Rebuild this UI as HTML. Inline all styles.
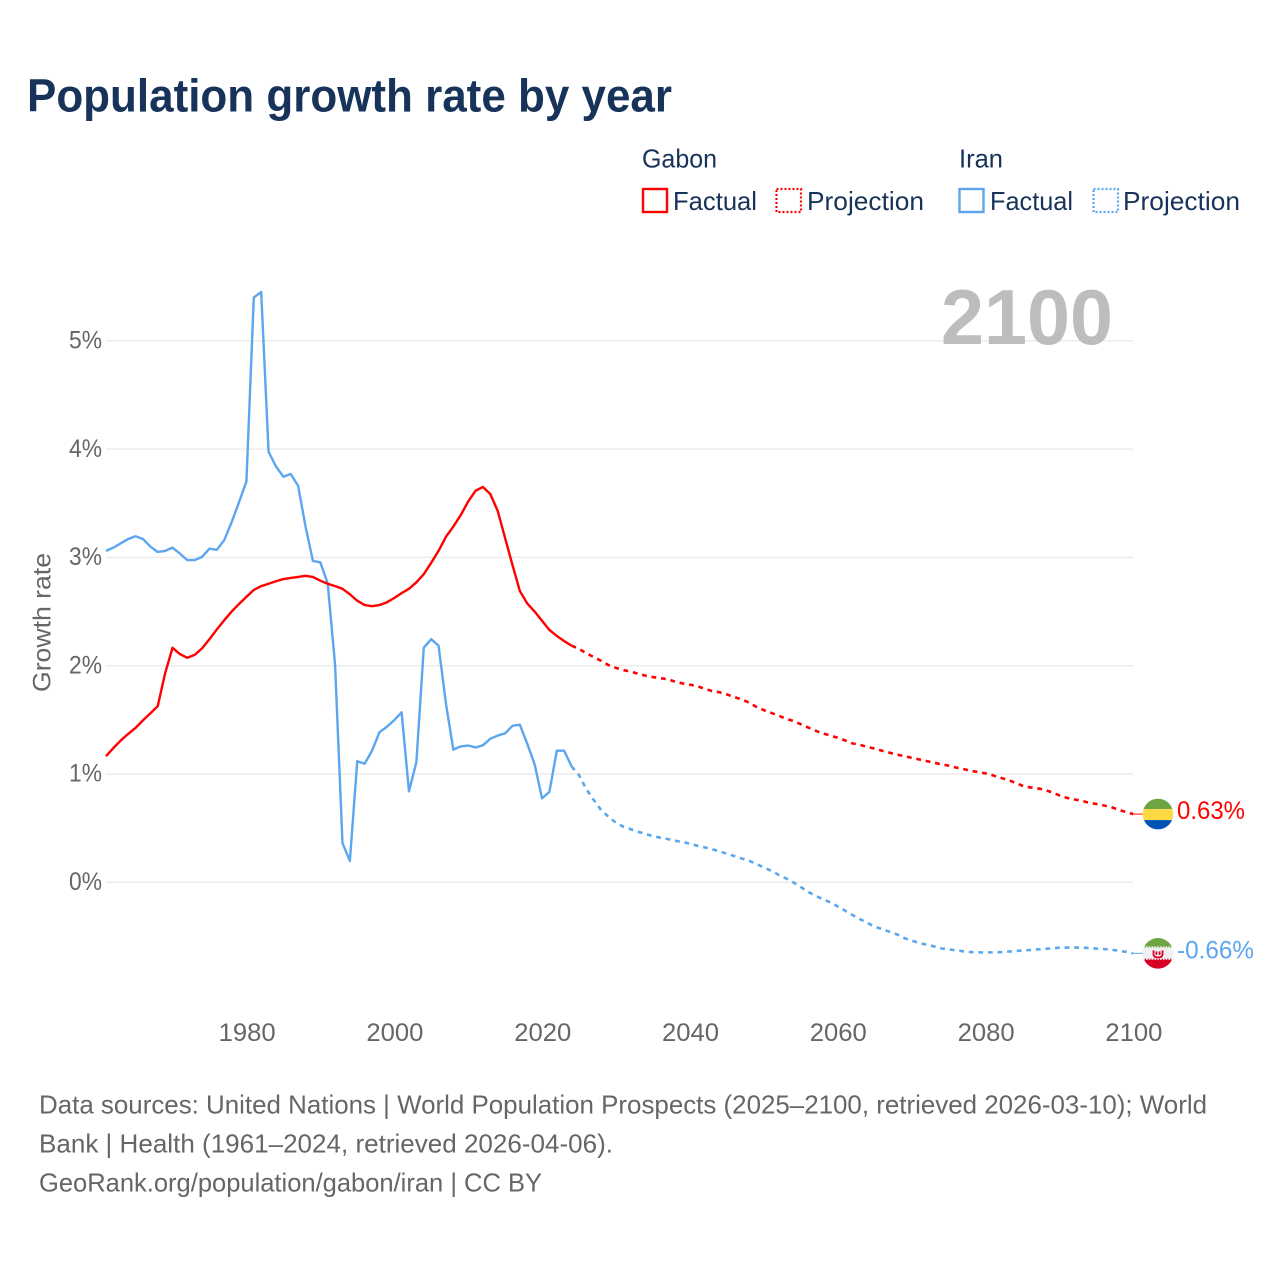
<!DOCTYPE html>
<html lang="en">
<head>
<meta charset="utf-8">
<title>Population growth rate by year</title>
<style>
html,body{margin:0;padding:0;background:#fff;}
svg{display:block;font-family:"Liberation Sans",sans-serif;}
</style>
</head>
<body>
<svg id="chart" width="1280" height="1280" viewBox="0 0 1280 1280" xmlns="http://www.w3.org/2000/svg">
  <defs>
    <clipPath id="flag-clip-gabon"><circle cx="0" cy="0" r="15.3"/></clipPath>
    <clipPath id="flag-clip-iran"><circle cx="0" cy="0" r="15.3"/></clipPath>
  </defs>
  <rect x="0" y="0" width="1280" height="1280" fill="#ffffff"/>
  <text x="27" y="111.5" font-size="46" font-weight="700" fill="#17335a" textLength="645" lengthAdjust="spacingAndGlyphs">Population growth rate by year</text>

  <g font-size="26" fill="#17335a">
    <text x="642" y="167.5" textLength="75" lengthAdjust="spacingAndGlyphs">Gabon</text>
    <rect x="643" y="189" width="24" height="23" fill="none" stroke="#ff0000" stroke-width="2.4"/>
    <text x="673" y="210" textLength="84" lengthAdjust="spacingAndGlyphs">Factual</text>
    <rect x="776.5" y="189" width="24.5" height="23" fill="none" stroke="#ff0000" stroke-width="2.2" stroke-dasharray="2 2"/>
    <text x="807" y="210" textLength="117" lengthAdjust="spacingAndGlyphs">Projection</text>
    <text x="959" y="167.5" textLength="44" lengthAdjust="spacingAndGlyphs">Iran</text>
    <rect x="959.5" y="189" width="24" height="23" fill="none" stroke="#5ba6ef" stroke-width="2.4"/>
    <text x="990" y="210" textLength="83" lengthAdjust="spacingAndGlyphs">Factual</text>
    <rect x="1093.5" y="189" width="24.5" height="23" fill="none" stroke="#5ba6ef" stroke-width="2.2" stroke-dasharray="2 2"/>
    <text x="1123" y="210" textLength="117" lengthAdjust="spacingAndGlyphs">Projection</text>
  </g>

  <g id="grid"></g>
  <text x="941" y="344" font-size="78" font-weight="700" fill="#bdbdbd" textLength="172" lengthAdjust="spacingAndGlyphs">2100</text>
  <g id="y-ticks"></g>
  <g id="x-ticks"></g>
  <text transform="translate(50.5,692) rotate(-90)" x="0" y="0" font-size="25" fill="#666666" textLength="139" lengthAdjust="spacingAndGlyphs">Growth rate</text>
  <g id="series"></g>

  <g id="flag-gabon">
    <g clip-path="url(#flag-clip-gabon)">
      <rect x="-16" y="-16" width="32" height="11" fill="#6da544"/>
      <rect x="-16" y="-5" width="32" height="11" fill="#ffda44"/>
      <rect x="-16" y="6" width="32" height="10" fill="#0052b4"/>
    </g>
  </g>
  <g id="flag-iran">
    <g clip-path="url(#flag-clip-iran)">
      <rect x="-16" y="-16" width="32" height="32" fill="#f0f0f0"/>
      <rect x="-16" y="-16" width="32" height="9" fill="#6da544"/>
      <rect x="-16" y="6.5" width="32" height="10" fill="#d80027"/>
      <line x1="-16" x2="16" y1="-6.4" y2="-6.4" stroke="#6da544" stroke-width="1.3" stroke-dasharray="1.2 1.6"/>
      <line x1="-16" x2="16" y1="5.9" y2="5.9" stroke="#d80027" stroke-width="1.3" stroke-dasharray="1.2 1.6"/>
      <path d="M-4.5 -3 V1 Q-4.5 4 0 4 Q4.5 4 4.5 1 V-3 M-1.6 -2 V1.5 M1.6 -2 V1.5" fill="none" stroke="#d80027" stroke-width="1.8"/>
    </g>
  </g>
  <text id="value-gabon" x="1177" font-size="25" fill="#ff0000" textLength="68" lengthAdjust="spacingAndGlyphs"></text>
  <text id="value-iran" x="1177" font-size="25" fill="#5ba6ef" textLength="77" lengthAdjust="spacingAndGlyphs"></text>

  <g font-size="26" fill="#666666">
    <text x="39" y="1113.5" textLength="1168" lengthAdjust="spacingAndGlyphs">Data sources: United Nations | World Population Prospects (2025–2100, retrieved 2026-03-10); World</text>
    <text x="39" y="1152.5" textLength="574" lengthAdjust="spacingAndGlyphs">Bank | Health (1961–2024, retrieved 2026-04-06).</text>
    <text x="39" y="1191.5" textLength="503" lengthAdjust="spacingAndGlyphs">GeoRank.org/population/gabon/iran | CC BY</text>
  </g>
</svg>
<script>
const firstYear = 1961;
const lastYear = 2100;
const projectionStartYear = 2024;
const xTickYears = [1980, 2000, 2020, 2040, 2060, 2080, 2100];
const yTickValues = [0, 1, 2, 3, 4, 5];

const gabonFactual = [1.165,1.24,1.31,1.37,1.426,1.495,1.56,1.626,1.93,2.165,2.107,2.073,2.10,2.16,2.245,2.335,2.42,2.50,2.57,2.635,2.70,2.735,2.757,2.78,2.80,2.81,2.82,2.83,2.82,2.785,2.757,2.735,2.71,2.66,2.60,2.56,2.55,2.56,2.585,2.625,2.67,2.71,2.77,2.845,2.95,3.06,3.19,3.285,3.39,3.515,3.615,3.65,3.585,3.43,3.18,2.93,2.69,2.575,2.50,2.415,2.33,2.275,2.227,2.185];
const gabonProjection = [2.185,2.155,2.115,2.08,2.045,2.005,1.98,1.96,1.945,1.926,1.908,1.895,1.885,1.875,1.853,1.837,1.825,1.81,1.788,1.766,1.755,1.735,1.71,1.69,1.66,1.62,1.59,1.565,1.54,1.51,1.49,1.46,1.43,1.40,1.375,1.355,1.335,1.31,1.283,1.27,1.25,1.235,1.215,1.197,1.18,1.165,1.15,1.135,1.12,1.105,1.09,1.077,1.06,1.046,1.03,1.018,1.006,0.988,0.966,0.947,0.92,0.892,0.877,0.868,0.855,0.83,0.803,0.78,0.766,0.753,0.735,0.723,0.71,0.695,0.67,0.65,0.63];
const iranFactual = [3.06,3.09,3.13,3.17,3.195,3.17,3.10,3.05,3.06,3.09,3.035,2.975,2.975,3.005,3.08,3.07,3.16,3.325,3.51,3.70,5.40,5.45,3.975,3.84,3.745,3.77,3.66,3.285,2.967,2.955,2.76,2.005,0.363,0.197,1.118,1.095,1.215,1.385,1.436,1.497,1.57,0.84,1.11,2.165,2.245,2.185,1.65,1.225,1.255,1.263,1.245,1.265,1.325,1.355,1.375,1.445,1.455,1.28,1.09,0.775,0.835,1.215,1.215,1.07];
const iranProjection = [1.07,0.99,0.86,0.76,0.667,0.605,0.55,0.513,0.49,0.467,0.446,0.427,0.412,0.40,0.384,0.372,0.357,0.338,0.323,0.305,0.286,0.264,0.243,0.22,0.20,0.169,0.138,0.107,0.07,0.037,0,-0.043,-0.087,-0.125,-0.155,-0.185,-0.222,-0.262,-0.302,-0.34,-0.373,-0.41,-0.431,-0.456,-0.48,-0.514,-0.539,-0.558,-0.576,-0.591,-0.61,-0.619,-0.628,-0.637,-0.644,-0.647,-0.647,-0.647,-0.645,-0.64,-0.635,-0.63,-0.625,-0.62,-0.615,-0.609,-0.604,-0.603,-0.603,-0.603,-0.606,-0.612,-0.616,-0.622,-0.632,-0.642,-0.656];

const SVG_NS = 'http://www.w3.org/2000/svg';
const plotLeft = 106, plotRight = 1133.2, zeroY = 882.3, pxPerUnit = 108.3;
const RED = '#ff0000', BLUE = '#5ba6ef';
function xScale(year) { return plotLeft + (year - firstYear) * (plotRight - plotLeft) / (lastYear - firstYear); }
function yScale(value) { return zeroY - value * pxPerUnit; }
function pointsFrom(values, startYear) {
  return values.map(function (v, i) { return xScale(startYear + i).toFixed(2) + ',' + yScale(v).toFixed(2); }).join(' ');
}

const gridGroup = document.getElementById('grid');
const yTickGroup = document.getElementById('y-ticks');
const xTickGroup = document.getElementById('x-ticks');
const seriesGroup = document.getElementById('series');

yTickValues.forEach(function (v) {
  const line = document.createElementNS(SVG_NS, 'line');
  
  
  line.setAttribute('x1', plotLeft);
  line.setAttribute('x2', plotRight);
  line.setAttribute('y1', yScale(v));
  line.setAttribute('y2', yScale(v));
  line.setAttribute('stroke', '#ececec');
  line.setAttribute('stroke-width', '1.5');
  gridGroup.appendChild(line);

  const label = document.createElementNS(SVG_NS, 'text');
  
  
  label.setAttribute('x', 102);
  label.setAttribute('y', yScale(v) + 7.7);
  label.setAttribute('text-anchor', 'end');
  label.setAttribute('font-size', '25');
  label.setAttribute('fill', '#666666');
  label.setAttribute('textLength', '33');
  label.setAttribute('lengthAdjust', 'spacingAndGlyphs');
  label.textContent = v + '%';
  yTickGroup.appendChild(label);
});

xTickYears.forEach(function (year) {
  const label = document.createElementNS(SVG_NS, 'text');
  
  
  label.setAttribute('x', xScale(year) + 0.7);
  label.setAttribute('y', 1041);
  label.setAttribute('text-anchor', 'middle');
  label.setAttribute('font-size', '25');
  label.setAttribute('fill', '#666666');
  label.setAttribute('textLength', '57');
  label.setAttribute('lengthAdjust', 'spacingAndGlyphs');
  label.textContent = year;
  xTickGroup.appendChild(label);
});

function drawLine(name, values, startYear, color, dashed) {
  const line = document.createElementNS(SVG_NS, 'polyline');
  
  
  line.setAttribute('points', pointsFrom(values, startYear));
  line.setAttribute('fill', 'none');
  line.setAttribute('stroke', color);
  line.setAttribute('stroke-width', dashed ? '2.6' : '2.4');
  line.setAttribute('stroke-linejoin', 'round');
  if (dashed) {
    line.setAttribute('stroke-dasharray', '4.8 4.8');
  }
  seriesGroup.appendChild(line);
}

drawLine('line-iran-factual', iranFactual, firstYear, BLUE, false);
drawLine('line-iran-projection', iranProjection, projectionStartYear, BLUE, true);
drawLine('line-gabon-factual', gabonFactual, firstYear, RED, false);
drawLine('line-gabon-projection', gabonProjection, projectionStartYear, RED, true);

function placeEnd(flagId, labelId, leaderName, values, color) {
  const last = values[values.length - 1];
  const y = yScale(last);
  const leader = document.createElementNS(SVG_NS, 'line');
  
  
  leader.setAttribute('x1', xScale(lastYear));
  leader.setAttribute('x2', 1143);
  leader.setAttribute('y1', y);
  leader.setAttribute('y2', y);
  leader.setAttribute('stroke', color);
  leader.setAttribute('stroke-width', '1');
  seriesGroup.appendChild(leader);
  document.getElementById(flagId).setAttribute('transform', 'translate(1158,' + y.toFixed(2) + ')');
  const label = document.getElementById(labelId);
  label.setAttribute('y', y + 5);
  label.textContent = last.toFixed(2) + '%';
}

placeEnd('flag-gabon', 'value-gabon', 'leader-gabon', gabonProjection, RED);
placeEnd('flag-iran', 'value-iran', 'leader-iran', iranProjection, BLUE);
</script>
</body>
</html>
